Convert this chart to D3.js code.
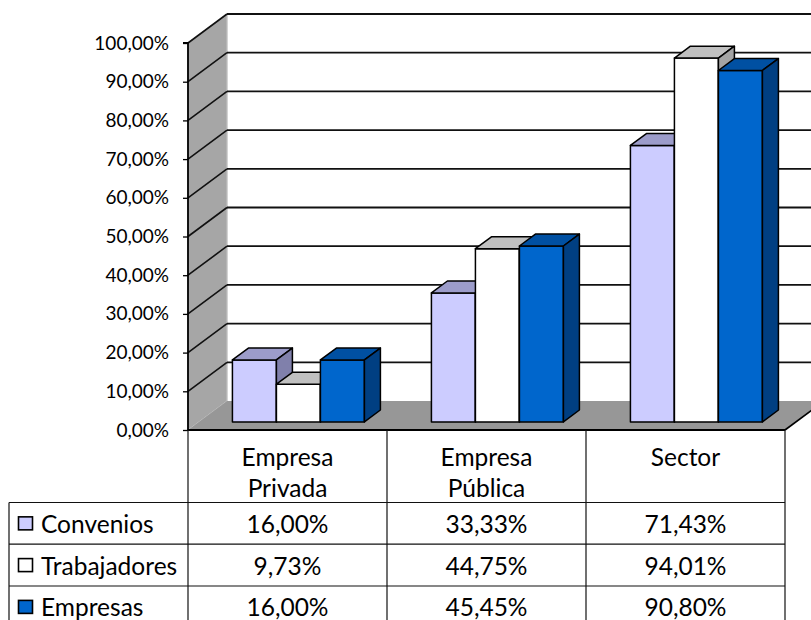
<!DOCTYPE html>
<html><head><meta charset="utf-8">
<script src="https://cdn.jsdelivr.net/npm/d3@7"></script>
<style>html,body{margin:0;padding:0;background:#fff}svg{display:block}</style>
</head><body>
<svg id="c" width="811" height="620"></svg>
<script>
const categories = ["Empresa Privada", "Empresa Pública", "Sector"];
const seriesNames = ["Convenios", "Trabajadores", "Empresas"];
const convenios = [16.00, 33.33, 71.43];
const trabajadores = [9.73, 44.75, 94.01];
const empresas = [16.00, 45.45, 90.80];
const yTicks = [0, 10, 20, 30, 40, 50, 60, 70, 80, 90, 100];

const seriesValues = [convenios, trabajadores, empresas];
const colors = [
  {front: "#ccccff", top: "#9c9cca", side: "#8080ab"},
  {front: "#ffffff", top: "#c0c0c0", side: "#a4a4a4"},
  {front: "#0066cc", top: "#0050a2", side: "#003f82"}
];
const FONT = "Lato, 'Open Sans', sans-serif";
const fmt = v => v.toFixed(2).replace(".", ",") + "%";

const svg = d3.select("#c");
const X0 = 188, X1 = 785, Y0 = 430, Y1 = 43;
const DX = 39, DY = -29;           // wall depth offset
const zF = 0.28, zB = 0.69;        // bar front/back depth fraction

const x = d3.scaleBand().domain(categories).range([X0, X1]).paddingInner(0).paddingOuter(0);
const xs = d3.scaleBand().domain(seriesNames).range([0, 132]);
const groupOff = (x.bandwidth() - 132) / 2;
const y = d3.scaleLinear().domain([0, 100]).range([Y0, Y1]);

const g = svg.append("g");

// back wall
g.append("rect").attr("x", X0 + DX).attr("y", y(100) + DY).attr("width", 700).attr("height", y(0) - y(100)).attr("fill", "#fff");
g.append("line").attr("x1", X0 + DX).attr("x2", X0 + DX).attr("y1", y(100) + DY).attr("y2", y(0) + DY).attr("stroke", "#c8c8c8").attr("stroke-width", 1);

// side wall
g.append("path").attr("d", d3.line()([[X0, y(0)], [X0, y(100)], [X0 + DX, y(100) + DY], [X0 + DX, y(0) + DY]]) + "Z")
  .attr("fill", "#a6a6a6").attr("stroke", "#c4c4c4").attr("stroke-width", 1);

// floor
g.append("path").attr("d", d3.line()([[X0, y(0)], [X0 + DX, y(0) + DY], [X1 + DX, y(0) + DY], [X1, y(0)]]) + "Z")
  .attr("fill", "#979797");
g.append("line").attr("x1", X1).attr("y1", y(0)).attr("x2", X1 + DX).attr("y2", y(0) + DY).attr("stroke", "#000").attr("stroke-width", 1.6);

// gridlines
yTicks.filter(t => t > 0).forEach(t => {
  g.append("line").attr("x1", X0 + DX).attr("x2", 830).attr("y1", y(t) + DY).attr("y2", y(t) + DY)
    .attr("stroke", "#111").attr("stroke-width", 1.8);
  g.append("line").attr("x1", X0).attr("x2", X0 + DX).attr("y1", y(t)).attr("y2", y(t) + DY)
    .attr("stroke", "#111").attr("stroke-width", 1.6);
});

// bars
const bdx = DX * (zB - zF), bdy = DY * (zB - zF);
const ox = DX * zF, oy = DY * zF;
const w = xs.bandwidth();
categories.forEach((c, i) => {
  seriesNames.forEach((s, j) => {
    const v = seriesValues[j][i];
    const fx = x(c) + groupOff + xs(s) + ox;
    const fy0 = y(0) + oy, fy1 = y(v) + oy;
    const col = colors[j];
    const bg = g.append("g").attr("stroke", "#000").attr("stroke-width", 1.5).attr("stroke-linejoin", "round");
    bg.append("rect").attr("x", fx).attr("y", fy1).attr("width", w).attr("height", fy0 - fy1).attr("fill", col.front);
    bg.append("path").attr("d", d3.line()([[fx, fy1], [fx + bdx, fy1 + bdy], [fx + w + bdx, fy1 + bdy], [fx + w, fy1]]) + "Z").attr("fill", col.top);
    bg.append("path").attr("d", d3.line()([[fx + w, fy1], [fx + w + bdx, fy1 + bdy], [fx + w + bdx, fy0 + bdy], [fx + w, fy0]]) + "Z").attr("fill", col.side);
  });
});

// y axis
const yAxis = d3.axisLeft(y).tickValues(yTicks).tickFormat(fmt).tickSize(5).tickPadding(14);
const ax = svg.append("g").attr("transform", `translate(${X0},0)`).call(yAxis);
ax.select(".domain").attr("stroke", "#000").attr("stroke-width", 1.8).attr("d", `M-5,${y(100)}H0V${y(0)}`);
ax.selectAll(".tick line").attr("stroke", "#000").attr("stroke-width", 1.3);
ax.selectAll(".tick text").attr("font-family", FONT).attr("font-size", 19).attr("fill", "#000");

// table
const rowLines = [502.5, 544.2, 586, 627.8];
const TL = 9;
const t = svg.append("g");
const cols = [X0].concat(categories.map(c => x(c) + x.bandwidth()));
t.append("line").attr("x1", X0).attr("x2", X1).attr("y1", Y0).attr("y2", Y0).attr("stroke", "#000").attr("stroke-width", 2);
cols.forEach(cx => t.append("line").attr("x1", cx).attr("x2", cx).attr("y1", Y0).attr("y2", 630).attr("stroke", "#111").attr("stroke-width", 1.2));
t.append("line").attr("x1", TL).attr("x2", TL).attr("y1", rowLines[0]).attr("y2", 630).attr("stroke", "#111").attr("stroke-width", 1.2);
rowLines.forEach(ry => t.append("line").attr("x1", TL).attr("x2", X1).attr("y1", ry).attr("y2", ry).attr("stroke", "#111").attr("stroke-width", 1.2));

const TFS = 24.5;
categories.forEach(c => {
  const words = c.split(" ");
  words.forEach((wd, k) => {
    t.append("text").attr("x", x(c) + x.bandwidth() / 2).attr("y", 456 + k * 31.5)
      .attr("text-anchor", "middle").attr("dominant-baseline", "central")
      .attr("font-family", FONT).attr("font-size", TFS).attr("fill", "#000").text(wd);
  });
});
seriesNames.forEach((s, j) => {
  const cy = (rowLines[j] + rowLines[j + 1]) / 2;
  t.append("rect").attr("x", 18.5).attr("y", cy - 6.5).attr("width", 14).attr("height", 13)
    .attr("fill", colors[j].front).attr("stroke", "#000").attr("stroke-width", 1.6);
  t.append("text").attr("x", 41).attr("y", cy).attr("dominant-baseline", "central")
    .attr("font-family", FONT).attr("font-size", TFS).attr("fill", "#000").text(s);
  categories.forEach((c, i) => {
    t.append("text").attr("x", x(c) + x.bandwidth() / 2).attr("y", cy)
      .attr("text-anchor", "middle").attr("dominant-baseline", "central")
      .attr("font-family", FONT).attr("font-size", TFS).attr("fill", "#000").text(fmt(seriesValues[j][i]));
  });
});
</script>
</body></html>
